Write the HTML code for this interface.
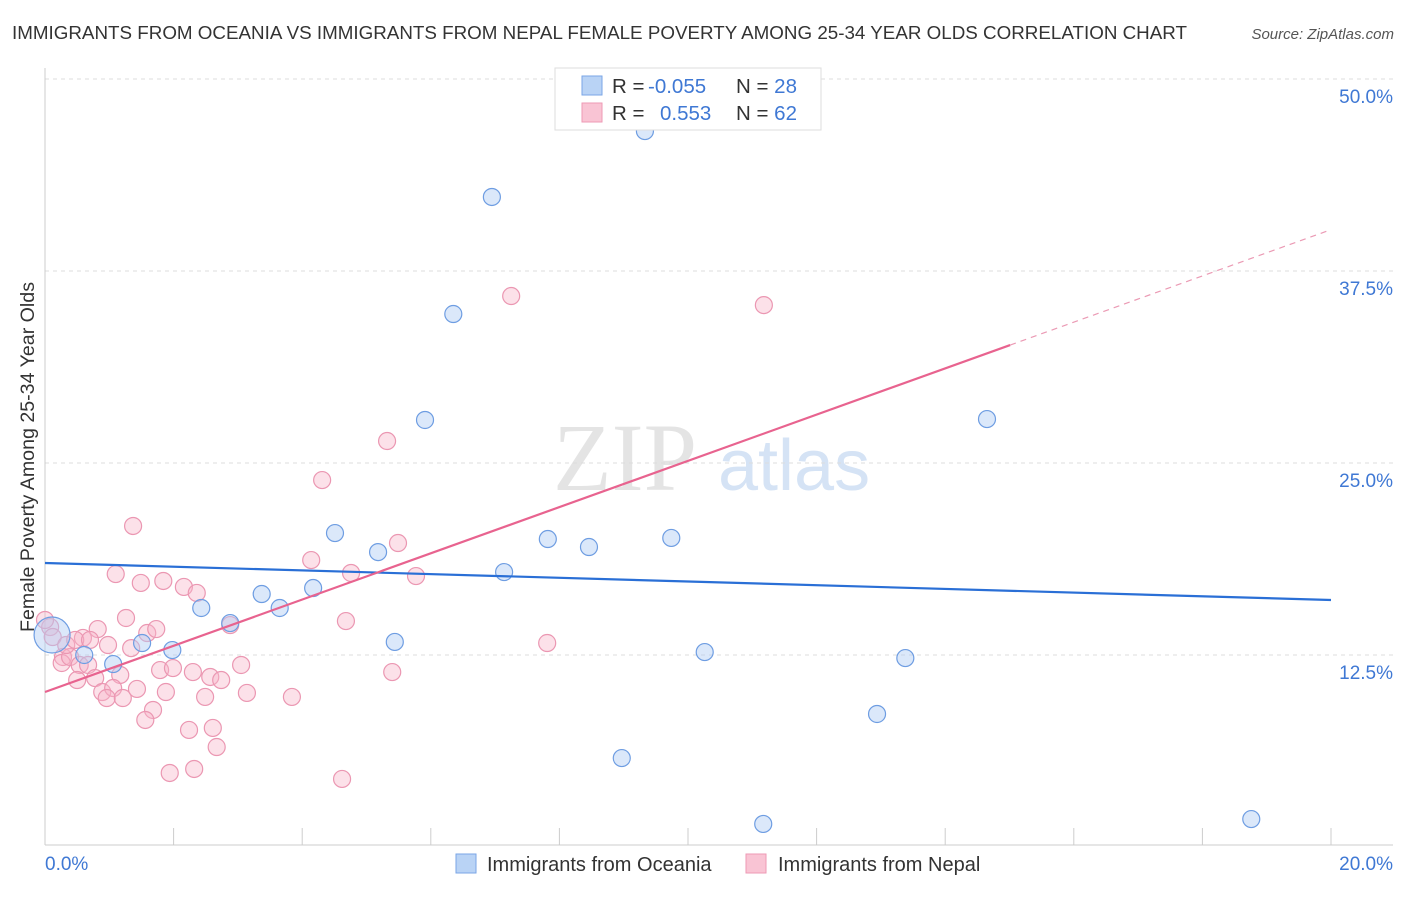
<!DOCTYPE html>
<html><head><meta charset="utf-8"><style>
body{margin:0;background:#fff;font-family:"Liberation Sans",sans-serif;}
</style></head><body>
<svg id="chart" width="1406" height="892" xmlns="http://www.w3.org/2000/svg">
<text x="12" y="39" font-size="18" fill="#333" textLength="1175" lengthAdjust="spacingAndGlyphs">IMMIGRANTS FROM OCEANIA VS IMMIGRANTS FROM NEPAL FEMALE POVERTY AMONG 25-34 YEAR OLDS CORRELATION CHART</text>
<text x="1394" y="39" font-size="15" fill="#555" text-anchor="end" font-style="italic">Source: ZipAtlas.com</text>
<g>
<text x="553" y="490" font-size="96" fill="#e4e4e4" font-family="Liberation Serif,serif">ZIP</text>
<text x="718" y="490" font-size="72" fill="#d5e3f5">atlas</text>
</g>
<g id="grid"></g><g id="axes"></g><g id="pts"></g><g id="lines"></g>
<text transform="translate(34,457) rotate(-90)" font-size="19" fill="#333" text-anchor="middle" textLength="350" lengthAdjust="spacingAndGlyphs">Female Poverty Among 25-34 Year Olds</text>
<g>
<rect x="555" y="68" width="266" height="62" fill="#fff" stroke="#ddd"/>
<rect x="582" y="76" width="20" height="19" fill="#b9d3f5" stroke="#7aa6e6"/>
<rect x="582" y="103" width="20" height="19" fill="#f9c4d4" stroke="#ee9ab5"/>
<text x="612" y="93" font-size="20.5" fill="#333">R = <tspan fill="#3f78d4" x="648">-0.055</tspan></text>
<text x="736" y="93" font-size="20.5" fill="#333">N = <tspan fill="#3f78d4">28</tspan></text>
<text x="612" y="120" font-size="20.5" fill="#333">R = <tspan fill="#3f78d4" x="660">0.553</tspan></text>
<text x="736" y="120" font-size="20.5" fill="#333">N = <tspan fill="#3f78d4">62</tspan></text>
</g>
<g>
<rect x="456" y="854" width="20" height="19" fill="#b9d3f5" stroke="#7aa6e6"/>
<text x="487" y="871" font-size="20" fill="#333">Immigrants from Oceania</text>
<rect x="746" y="854" width="20" height="19" fill="#f9c4d4" stroke="#ee9ab5"/>
<text x="778" y="871" font-size="20" fill="#333">Immigrants from Nepal</text>
</g>
</svg>
<script>
const yTicks=[12.5,25,37.5,50];
const yTickLabels=["12.5%","25.0%","37.5%","50.0%"];
const xTicks=[0,2,4,6,8,10,12,14,16,18,20];
const xEndLabels=["0.0%","20.0%"];
const oceaniaX=[0.11,0.61,1.06,1.51,1.98,2.43,2.88,3.37,3.65,4.17,4.51,5.18,5.44,5.91,6.35,6.95,7.14,7.82,8.46,9.33,9.74,10.26,8.97,11.17,12.94,13.38,14.65,18.76];
const oceaniaY=[13.8,12.5,11.91,13.28,12.82,15.56,14.58,16.47,15.56,16.86,20.44,19.2,13.35,27.8,34.7,42.32,17.9,20.05,19.53,46.61,20.12,12.69,5.79,1.5,8.66,12.3,27.86,1.82];
const nepalX=[1.37,1.10,1.49,1.84,2.16,2.36,1.26,1.59,1.73,0.82,0.59,0.98,1.34,0.08,0.12,0.28,0.26,0.39,0.54,0.67,0.50,0.78,1.17,0.89,1.06,0.96,1.21,1.43,1.79,1.99,2.30,2.57,2.74,3.05,2.88,1.88,2.49,3.14,1.68,1.56,2.24,2.61,2.67,1.94,2.32,3.84,4.62,4.68,4.14,4.76,5.49,5.77,5.40,4.31,5.32,7.25,11.18,7.81,0.00,0.33,0.47,0.70];
const nepalY=[20.9,17.77,17.19,17.32,16.93,16.54,14.91,13.93,14.19,14.19,13.61,13.15,12.95,14.32,13.67,12.37,11.98,12.37,11.85,11.85,10.87,11.0,11.2,10.09,10.35,9.7,9.7,10.29,11.52,11.65,11.39,11.07,10.87,11.85,14.45,10.09,9.77,10.03,8.92,8.27,7.62,7.75,6.51,4.82,5.08,9.77,4.43,14.71,18.68,17.84,19.79,17.64,11.39,23.89,26.43,35.87,35.28,13.28,14.78,13.15,13.48,13.48];
const oceaniaFit=[18.49,16.08];
const nepalFit=[10.09,40.19];
const nepalSolidEnd=15.01;

const NS="http://www.w3.org/2000/svg";
const X=v=>45+v/20*1286, Y=v=>847-v*15.36;
function mk(t,a,p){const e=document.createElementNS(NS,t);for(const k in a)e.setAttribute(k,a[k]);p.appendChild(e);return e;}
const grid=document.getElementById('grid'),axes=document.getElementById('axes'),pts=document.getElementById('pts'),lines=document.getElementById('lines');
yTicks.forEach((t,i)=>{
 const l=mk('line',{x1:45,x2:1393,y1:Y(t),y2:Y(t),stroke:'#ddd','stroke-dasharray':'4,4'},grid);
 
 
 const tx=mk('text',{x:1393,y:Y(t)+24,'font-size':19,fill:'#3f78d4','text-anchor':'end'},axes);
 tx.textContent=yTickLabels[i];
 
 
});
const ax=mk('line',{x1:45,x2:1393,y1:845,y2:845,stroke:'#ccc'},axes);


const ay=mk('line',{x1:45,x2:45,y1:68,y2:845,stroke:'#ccc'},axes);


xTicks.forEach(t=>{if(t%2)return;const l=mk('line',{x1:X(t),x2:X(t),y1:828,y2:845,stroke:'#ccc'},axes);
 
 });
[[0,'start',45],[20,'end',1393]].forEach((d,i)=>{const t=mk('text',{x:d[2],y:870,'font-size':19,fill:'#3f78d4','text-anchor':d[1]},axes);t.textContent=xEndLabels[i];
 
 });
nepalX.forEach((v,i)=>{const c=mk('circle',{cx:X(v),cy:Y(nepalY[i]),r:8.5,fill:'rgba(248,180,200,0.4)',stroke:'#eb97b2','stroke-width':1.2},pts);
 
 });
oceaniaX.forEach((v,i)=>{const c=mk('circle',{cx:X(v),cy:Y(oceaniaY[i]),r:i===0?18:8.5,fill:'rgba(175,204,243,0.45)',stroke:'#6e9de2','stroke-width':1.2},pts);
 
 });
const bl=mk('line',{x1:X(0),y1:Y(oceaniaFit[0]),x2:X(20),y2:Y(oceaniaFit[1]),stroke:'#2a6fd6','stroke-width':2.2},lines);


const ny=v=>nepalFit[0]+(nepalFit[1]-nepalFit[0])*v/20;
const pl=mk('line',{x1:X(0),y1:Y(ny(0)),x2:X(nepalSolidEnd),y2:Y(ny(nepalSolidEnd)),stroke:'#e8638f','stroke-width':2.2},lines);


const pd=mk('line',{x1:X(nepalSolidEnd),y1:Y(ny(nepalSolidEnd)),x2:X(20),y2:Y(ny(20)),stroke:'#eb9ab4','stroke-width':1.2,'stroke-dasharray':'6,5'},lines);


</script>
</body></html>
